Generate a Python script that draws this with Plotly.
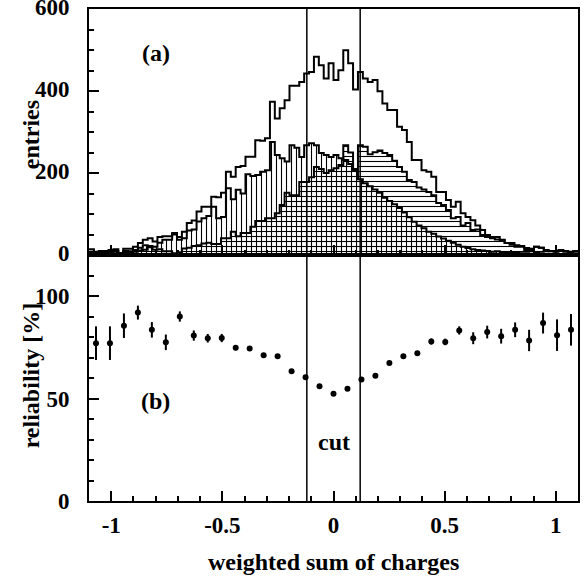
import numpy as np
import plotly.graph_objects as go
from plotly.subplots import make_subplots

# ---------------- data ----------------
x_min, x_max = -1.1, 1.1
n_hist_bins = 100
n_rel_bins = 35

hist_total = [14, 8, 10, 10, 12, 14, 5, 15, 15, 20,
              29, 37, 41, 33, 44, 46, 46, 54, 44, 57,
              78, 84, 106, 118, 118, 142, 141, 152, 203, 191,
              215, 217, 240, 240, 280, 279, 285, 374, 333, 358,
              378, 413, 413, 422, 443, 447, 484, 463, 431, 468,
              427, 451, 500, 468, 404, 447, 431, 422, 427, 400,
              370, 354, 354, 313, 305, 276, 232, 232, 207, 203,
              191, 154, 154, 134, 118, 130, 102, 93, 85, 72,
              61, 49, 44, 44, 37, 29, 29, 20, 20, 12,
              12, 20, 18, 12, 10, 10, 12, 10, 8, 10]

hist_negative = [8, 5, 6, 7, 8, 10, 4, 10, 9, 12,
                 18, 24, 22, 20, 30, 37, 37, 50, 37, 41,
                 60, 62, 82, 90, 95, 118, 90, 93, 163, 136,
                 159, 150, 197, 193, 195, 203, 207, 276, 244, 236,
                 228, 268, 262, 239, 268, 273, 268, 249, 244, 239,
                 244, 236, 232, 222, 205, 185, 175, 168, 160, 152,
                 140, 132, 124, 115, 104, 92, 81, 72, 65, 57,
                 52, 45, 40, 35, 30, 25, 20, 17, 14, 12,
                 11, 10, 8, 9, 7, 6, 6, 5, 4, 4,
                 3, 5, 4, 3, 2, 3, 2, 2, 1, 2]

hist_positive = [4, 3, 4, 3, 4, 4, 1, 5, 6, 8,
                 11, 13, 19, 13, 14, 9, 9, 4, 7, 16,
                 18, 22, 24, 28, 30, 27, 27, 41, 41, 57,
                 46, 54, 54, 69, 83, 83, 90, 90, 102, 122,
                 152, 146, 146, 178, 178, 190, 215, 210, 200, 207,
                 212, 220, 268, 250, 210, 268, 264, 246, 251, 255,
                 249, 244, 230, 215, 203, 183, 178, 165, 160, 154,
                 146, 127, 122, 110, 90, 93, 72, 78, 61, 62,
                 49, 44, 41, 38, 36, 29, 25, 24, 22, 17,
                 15, 20, 18, 10, 9, 8, 10, 8, 7, 8]

reliability = [77.0, 77.0, 85.5, 91.9, 83.5, 77.4, 90.0, 80.7, 79.4, 79.5,
               74.7, 74.4, 71.1, 70.6, 63.3, 60.4, 56.0, 52.3, 54.8, 59.3,
               61.1, 67.3, 70.6, 72.1, 77.8, 77.6, 83.2, 79.4, 82.4, 80.4,
               83.5, 78.3, 86.8, 80.9, 83.5]
reliability_err = [8.2, 8.2, 6.0, 3.4, 3.8, 3.8, 2.5, 2.5, 2.1, 2.0,
                   1.2, 1.1, 1.0, 0.9, 0.8, 0.7, 0.7, 0.7, 0.7, 0.7,
                   0.8, 0.8, 0.9, 1.0, 1.5, 1.6, 2.0, 2.9, 3.1, 3.6,
                   3.6, 5.2, 5.1, 7.7, 7.7]

cut_values = [-0.12, 0.12]
x_tick_vals = [-1, -0.5, 0, 0.5, 1]
x_tick_text = ["-1", "-0.5", "0", "0.5", "1"]
top_y_ticks = [0, 200, 400, 600]
bottom_y_ticks = [0, 50, 100]

# ---------------- derived bin geometry ----------------
h_edges = np.linspace(x_min, x_max, n_hist_bins + 1)
h_centers = 0.5 * (h_edges[:-1] + h_edges[1:])
h_width = h_edges[1] - h_edges[0]
r_edges = np.linspace(x_min, x_max, n_rel_bins + 1)
r_centers = 0.5 * (r_edges[:-1] + r_edges[1:])

FONT = "Liberation Serif"

fig = make_subplots(rows=2, cols=1, shared_xaxes=False, vertical_spacing=0.0)

# hatched histograms
fig.add_trace(go.Bar(
    x=h_centers, y=hist_negative, width=h_width,
    marker=dict(color="black", line=dict(width=0),
                pattern=dict(shape="|", size=5, solidity=0.22, fillmode="replace")),
    showlegend=False, hoverinfo="skip"), row=1, col=1)
fig.add_trace(go.Bar(
    x=h_centers, y=hist_positive, width=h_width,
    marker=dict(color="black", line=dict(width=0),
                pattern=dict(shape="-", size=5, solidity=0.22, fillmode="replace")),
    showlegend=False, hoverinfo="skip"), row=1, col=1)

# step outlines
for series in (hist_total, hist_negative, hist_positive):
    ys = list(series) + [series[-1]]
    fig.add_trace(go.Scatter(
        x=h_edges, y=ys, mode="lines", line=dict(color="black", width=2, shape="hv"),
        showlegend=False, hoverinfo="skip"), row=1, col=1)

# reliability points
fig.add_trace(go.Scatter(
    x=r_centers, y=reliability, mode="markers",
    marker=dict(color="black", size=6),
    error_y=dict(type="data", array=reliability_err, thickness=2, width=0, color="black"),
    showlegend=False), row=2, col=1)

fig.update_layout(barmode="overlay", bargap=0)

axis_common = dict(showline=True, linecolor="black", linewidth=2, mirror=True,
                   ticks="inside", tickcolor="black", tickwidth=1.5, ticklen=10,
                   showgrid=False, zeroline=False, automargin=False,
                   ticklabeloverflow="allow",
                   tickfont=dict(family=FONT, size=23, color="black", weight="bold"))

fig.update_xaxes(range=[x_min, x_max], tickvals=x_tick_vals, ticktext=x_tick_text,
                 minor=dict(tickmode="linear", tick0=0, dtick=0.1, ticks="inside",
                            ticklen=5, tickwidth=1.5, tickcolor="black"),
                 **axis_common)
fig.update_xaxes(showticklabels=False, row=1, col=1)
fig.update_xaxes(ticklabelstandoff=2, row=2, col=1)

fig.update_yaxes(range=[0, 600.5], tickvals=top_y_ticks,
                 minor=dict(tickmode="linear", tick0=0, dtick=50, ticks="inside",
                            ticklen=5, tickwidth=1.5, tickcolor="black"),
                 ticklabelstandoff=13, ticklabelshift=-2, row=1, col=1, **axis_common)
fig.update_yaxes(range=[0, 120], tickvals=bottom_y_ticks,
                 minor=dict(tickmode="linear", tick0=0, dtick=10, ticks="inside",
                            ticklen=5, tickwidth=1.5, tickcolor="black"),
                 ticklabelstandoff=13, row=2, col=1, **axis_common)

fig.update_layout(yaxis=dict(domain=[0.5, 1.0]), yaxis2=dict(domain=[0.0, 0.5]))

# cut lines spanning both panels
for cv in cut_values:
    fig.add_shape(type="line", xref="x2", yref="paper", x0=cv, x1=cv, y0=0, y1=1,
                  line=dict(color="black", width=1.5), layer="above")

txt = dict(family=FONT, size=24, color="black", weight="bold")
ann_common = dict(showarrow=False, font=txt, xanchor="center", yanchor="middle")
annotations = [
    dict(text="(a)", x=-0.8, y=493, xref="x", yref="y", **ann_common),
    dict(text="(b)", x=-0.8, y=49, xref="x2", yref="y2", **ann_common),
    dict(text="cut", x=0.0, y=29, xref="x2", yref="y2", **ann_common),
    dict(text="weighted sum of charges", x=0.5, y=-0.124, xref="paper", yref="paper",
         **ann_common),
    dict(text="entries", x=-0.118, y=0.744, xref="paper", yref="paper", textangle=-90,
         **ann_common),
    dict(text="reliability [%]", x=-0.118, y=0.256, xref="paper", yref="paper",
         textangle=-90, **ann_common),
]
fig.update_layout(annotations=annotations)

fig.update_layout(width=586, height=577, margin=dict(l=89, r=8, t=9, b=76),
                  plot_bgcolor="white", paper_bgcolor="white",
                  font=dict(family=FONT, color="black"))

fig.write_html("out.html", config={"displayModeBar": False},
               post_script="document.body.style.margin='0';document.body.style.overflow='hidden';")
